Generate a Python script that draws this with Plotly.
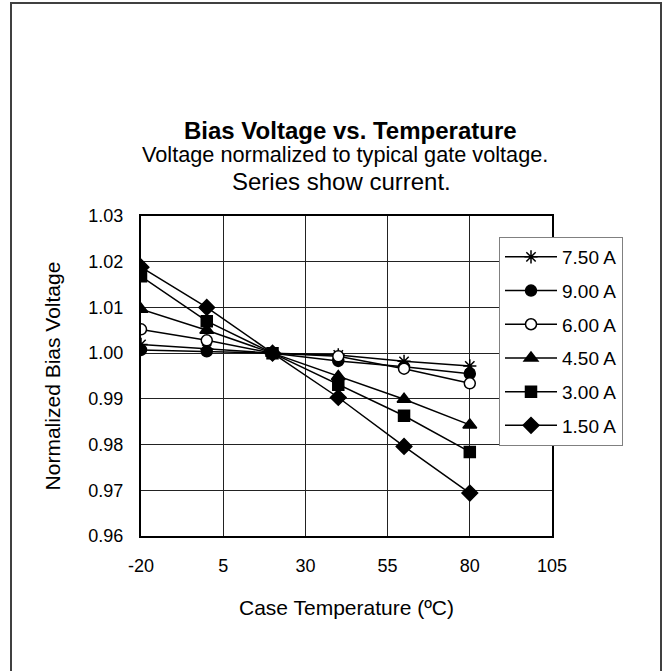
import plotly.graph_objects as go

temps = [-20, 0, 20, 40, 60, 80]
series_names = ["7.50 A", "9.00 A", "6.00 A", "4.50 A", "3.00 A", "1.50 A"]
v_750 = [1.0019, 1.0009, 1.0000, 0.9996, 0.9982, 0.9972]
v_900 = [1.0007, 1.0004, 1.0000, 0.9983, 0.9970, 0.9955]
v_600 = [1.0052, 1.0028, 1.0000, 0.9993, 0.9966, 0.9934]
v_450 = [1.0096, 1.0050, 1.0000, 0.9949, 0.9899, 0.9843]
v_300 = [1.0168, 1.0070, 1.0000, 0.9931, 0.9863, 0.9784]
v_150 = [1.0188, 1.0100, 1.0000, 0.9903, 0.9796, 0.9694]
series_values = [v_750, v_900, v_600, v_450, v_300, v_150]
symbols = ["asterisk-open", "circle", "circle", "triangle-up", "square", "diamond"]
fills = ["black", "black", "white", "black", "black", "black"]
sizes = [11, 11, 11, 12, 11, 12]
x_ticks = [-20, 5, 30, 55, 80, 105]
y_ticks = [0.96, 0.97, 0.98, 0.99, 1.00, 1.01, 1.02, 1.03]

FONT = "Liberation Sans, Arial, sans-serif"

fig = go.Figure()
for name, vals, sym, fc, sz in zip(series_names, series_values, symbols, fills, sizes):
    fig.add_trace(go.Scatter(
        x=temps, y=vals, name=name, mode="lines+markers",
        legendgroup=name,
        line=dict(color="black", width=1.5),
        marker=dict(symbol=sym, size=sz, color=fc,
                    line=dict(color="black", width=1.5)),
    ))

L, R, T, B = 141, 552, 216, 536
W, H = 664, 671

fig.update_layout(
    width=W, height=H,
    margin=dict(l=L, r=W - R, t=T, b=H - B),
    paper_bgcolor="white", plot_bgcolor="white",
    font=dict(family=FONT, color="black", size=18),
    showlegend=True,
    legend=dict(
        x=(499 - L) / (R - L), y=(B - 237) / (B - T), xanchor="left", yanchor="top",
        bgcolor="white", bordercolor="#808080", borderwidth=1,
        font=dict(size=19, family=FONT), tracegroupgap=6, itemwidth=52,
    ),
    xaxis=dict(
        range=[-20, 105], tickvals=x_ticks, ticktext=[str(v) for v in x_ticks],
        showgrid=True, gridcolor="#222222", gridwidth=1,
        showline=True, linecolor="black", linewidth=2, mirror=True,
        ticks="", zeroline=False, tickfont=dict(size=18), ticklabelstandoff=12,
        title=dict(text="Case Temperature (ºC)", font=dict(size=21), standoff=26),
    ),
    yaxis=dict(
        range=[0.96, 1.03], tickvals=y_ticks, ticktext=[f"{v:.2f}" for v in y_ticks],
        showgrid=True, gridcolor="#222222", gridwidth=1,
        showline=True, linecolor="black", linewidth=2, mirror=True,
        ticks="", zeroline=False, tickfont=dict(size=18), ticklabelstandoff=12,
        title=dict(text="Normalized Bias Voltage", font=dict(size=21), standoff=22),
    ),
)

def px(xp):
    return (xp - L) / (R - L)

def py(yp):
    return (B - yp) / (B - T)

fig.add_annotation(text="<b>Bias Voltage vs. Temperature</b>", x=px(350), y=py(115),
                   xref="paper", yref="paper", showarrow=False, font=dict(size=24))
fig.add_annotation(text="Voltage normalized to typical gate voltage.", x=px(345), y=py(140),
                   xref="paper", yref="paper", showarrow=False, font=dict(size=21.7))
fig.add_annotation(text="Series show current.", x=px(341), y=py(166),
                   xref="paper", yref="paper", showarrow=False, font=dict(size=24))

# outer chart border
fig.add_shape(type="rect", xref="paper", yref="paper",
              x0=px(11), x1=px(661), y0=py(690), y1=py(3),
              line=dict(color="#404040", width=2), fillcolor="rgba(0,0,0,0)", layer="below")

fig.write_html("out.html", config={"displayModeBar": False},
               post_script="document.body.style.margin='0px';")
